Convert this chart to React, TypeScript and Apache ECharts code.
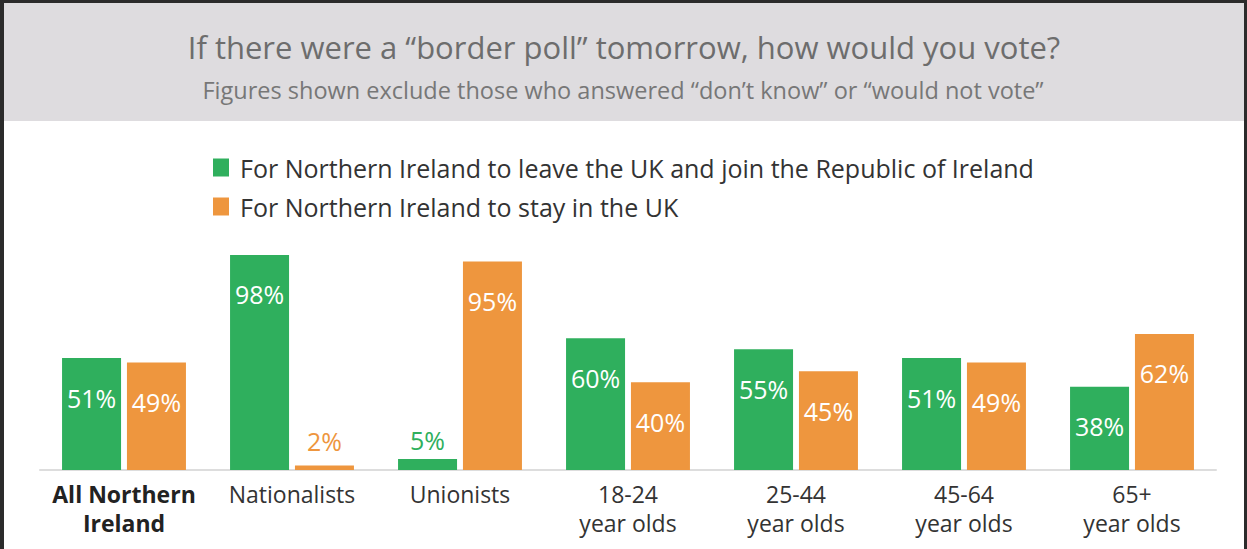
import React, { useEffect, useRef } from "react";
import * as echarts from "echarts";

const categories = [
  "All Northern\nIreland",
  "Nationalists",
  "Unionists",
  "18-24\nyear olds",
  "25-44\nyear olds",
  "45-64\nyear olds",
  "65+\nyear olds",
];
const leaveValues = [51, 98, 5, 60, 55, 51, 38];
const stayValues = [49, 2, 95, 40, 45, 49, 62];
const seriesNames = [
  "For Northern Ireland to leave the UK and join the Republic of Ireland",
  "For Northern Ireland to stay in the UK",
];
const titleText = "If there were a \u201cborder poll\u201d tomorrow, how would you vote?";
const subtitleText =
  "Figures shown exclude those who answered \u201cdon\u2019t know\u201d or \u201cwould not vote\u201d";

const GREEN = "#2faf5d";
const ORANGE = "#ee963e";
const FONT = "'Open Sans', sans-serif";

function buildData(values: number[], color: string) {
  return values.map((v) => {
    if (v < 10) {
      return {
        value: v,
        label: {
          position: "top",
          distance: v < 4 ? 12 : 7,
          color,
        },
      };
    }
    return { value: v };
  });
}

export default function App() {
  const ref = useRef<HTMLDivElement>(null);
  useEffect(() => {
    if (!ref.current) return;
    const chart = echarts.init(ref.current, undefined, { renderer: "svg" });
    const labelCommon = {
      show: true,
      position: "insideTop",
      distance: 27,
      color: "#ffffff",
      fontFamily: FONT,
      fontSize: 25,
      formatter: "{c}%",
    };
    chart.setOption({
      animation: false,
      backgroundColor: "#ffffff",
      graphic: [
        { type: "rect", shape: { x: 0, y: 0, width: 1247, height: 121 }, style: { fill: "#dedcdf" }, silent: true },
        { type: "rect", shape: { x: 0, y: 0, width: 1247, height: 3 }, style: { fill: "#2b2b2b" }, silent: true },
        { type: "rect", shape: { x: 0, y: 0, width: 4, height: 549 }, style: { fill: "#2b2b2b" }, silent: true },
        { type: "rect", shape: { x: 1244, y: 0, width: 3, height: 549 }, style: { fill: "#2b2b2b" }, silent: true },
        {
          type: "text",
          x: 624,
          y: 47,
          style: {
            text: titleText,
            fill: "#6d6d6d",
            font: "31px " + FONT,
            textAlign: "center",
            textVerticalAlign: "middle",
          },
        },
        {
          type: "text",
          x: 623,
          y: 90,
          style: {
            text: subtitleText,
            fill: "#777777",
            font: "23.5px " + FONT,
            textAlign: "center",
            textVerticalAlign: "middle",
          },
        },
      ],
      legend: {
        orient: "vertical",
        left: 208,
        top: 150,
        itemWidth: 16,
        itemHeight: 18,
        itemGap: 14,
        icon: "rect",
        textStyle: {
          fontFamily: FONT,
          fontSize: 25,
          color: "#333333",
          padding: [0, 0, 0, 6],
        },
        data: seriesNames,
      },
      grid: {
        left: 40,
        right: 31,
        top: 250.6,
        bottom: 79,
        containLabel: false,
      },
      xAxis: {
        type: "category",
        data: categories,
        axisLine: { show: true, lineStyle: { color: "#dddddd", width: 2 } },
        axisTick: { show: false },
        axisLabel: {
          interval: 0,
          margin: 9,
          fontFamily: FONT,
          fontSize: 23,
          lineHeight: 29,
          color: "#333333",
          formatter: (val: string, idx: number) =>
            val
              .split("\n")
              .map((l) => (idx === 0 ? "{b|" + l + "}" : "{n|" + l + "}"))
              .join("\n"),
          rich: {
            b: {
              fontFamily: FONT,
              fontSize: 23,
              lineHeight: 29,
              fontWeight: "bold",
              color: "#222222",
            },
            n: {
              fontFamily: FONT,
              fontSize: 23,
              lineHeight: 29,
              color: "#333333",
            },
          },
        },
      },
      yAxis: {
        type: "value",
        min: 0,
        max: 100,
        show: false,
        splitLine: { show: false },
      },
      series: [
        {
          name: seriesNames[0],
          type: "bar",
          barWidth: 59,
          barGap: "10%",
          itemStyle: { color: GREEN },
          label: labelCommon,
          data: buildData(leaveValues, GREEN),
        },
        {
          name: seriesNames[1],
          type: "bar",
          barWidth: 59,
          barGap: "10%",
          itemStyle: { color: ORANGE },
          label: labelCommon,
          data: buildData(stayValues, ORANGE),
        },
      ],
    });
    return () => chart.dispose();
  }, []);
  return (
    <div
      ref={ref}
      style={{ position: "fixed", left: 0, top: 0, width: 1247, height: 549 }}
    />
  );
}
